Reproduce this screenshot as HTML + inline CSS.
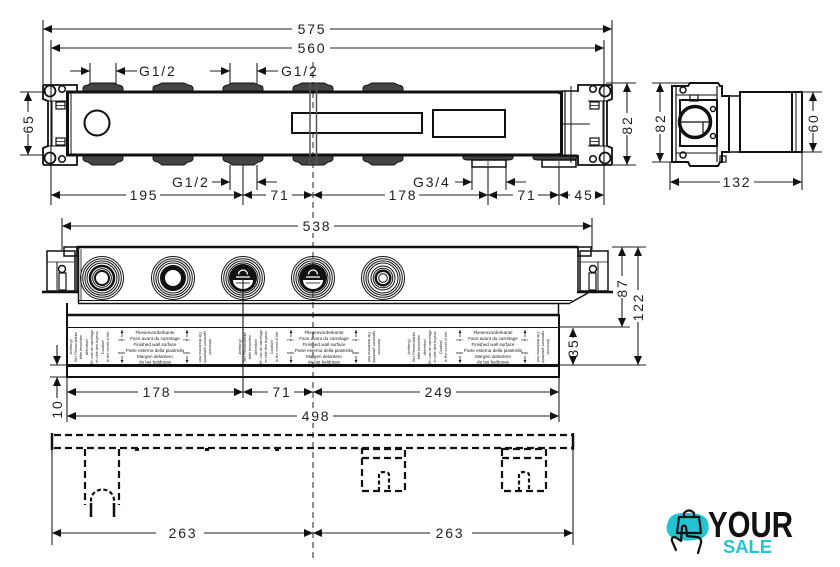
<!DOCTYPE html>
<html><head><meta charset="utf-8">
<style>
html,body{margin:0;padding:0;background:#fff;}
svg{display:block;}
text{font-family:"Liberation Sans",sans-serif;}
.d{font-size:14px;letter-spacing:1.8px;fill:#222;}
.b{font-size:4.6px;fill:#1a1a1a;}
.c{font-size:3.9px;fill:#222;}
</style></head><body>
<svg width="840" height="567" viewBox="0 0 840 567" xmlns="http://www.w3.org/2000/svg">
<defs>
<marker id="a" viewBox="0 0 9 8" refX="9" refY="4" markerWidth="9" markerHeight="8" markerUnits="userSpaceOnUse" orient="auto-start-reverse"><path d="M0,0 L9,4 L0,8 z" fill="#111"/></marker>
<marker id="s" viewBox="0 0 4 4" refX="4" refY="2" markerWidth="3" markerHeight="3" markerUnits="userSpaceOnUse" orient="auto"><path d="M0,0 L4,2 L0,4 z" fill="#222"/></marker>
</defs>

<!-- centerline -->
<line x1="313" y1="62" x2="313" y2="562" stroke="#222" stroke-width="1" stroke-dasharray="6,4"/>

<!-- ================= TOP VIEW ================= -->
<g stroke="#222" stroke-width="1.1" fill="none">
<line x1="43" y1="20" x2="43" y2="86"/>
<line x1="612" y1="20" x2="612" y2="86"/>
<line x1="51" y1="40" x2="51" y2="205"/>
<line x1="604" y1="40" x2="604" y2="205"/>
<line x1="90" y1="63" x2="90" y2="84"/>
<line x1="116" y1="63" x2="116" y2="84"/>
<line x1="230" y1="63" x2="230" y2="84"/>
<line x1="257" y1="63" x2="257" y2="84"/>
<line x1="230" y1="165" x2="230" y2="190"/>
<line x1="257" y1="165" x2="257" y2="190"/>
<line x1="243" y1="165" x2="243" y2="205"/>
<line x1="472" y1="166" x2="472" y2="190"/>
<line x1="506" y1="166" x2="506" y2="190"/>
<line x1="488" y1="166" x2="488" y2="205"/>
<line x1="559" y1="166" x2="559" y2="205"/>
<line x1="20" y1="92" x2="46" y2="92"/>
<line x1="20" y1="155" x2="46" y2="155"/>
<line x1="606" y1="83" x2="636" y2="83"/>
<line x1="606" y1="165" x2="636" y2="165"/>
</g>
<g stroke="#222" stroke-width="1.1" fill="none">
<line x1="43" y1="29" x2="612" y2="29" marker-start="url(#a)" marker-end="url(#a)"/>
<line x1="51" y1="48" x2="604" y2="48" marker-start="url(#a)" marker-end="url(#a)"/>
<line x1="70" y1="71" x2="90" y2="71" marker-end="url(#a)"/>
<line x1="137" y1="71" x2="116" y2="71" marker-end="url(#a)"/>
<line x1="210" y1="71" x2="230" y2="71" marker-end="url(#a)"/>
<line x1="278" y1="71" x2="257" y2="71" marker-end="url(#a)"/>
<line x1="212" y1="182" x2="230" y2="182" marker-end="url(#a)"/>
<line x1="277" y1="182" x2="257" y2="182" marker-end="url(#a)"/>
<line x1="455" y1="182" x2="472" y2="182" marker-end="url(#a)"/>
<line x1="526" y1="182" x2="506" y2="182" marker-end="url(#a)"/>
<line x1="51" y1="195" x2="243" y2="195" marker-start="url(#a)" marker-end="url(#a)"/>
<line x1="243" y1="195" x2="313" y2="195" marker-start="url(#a)" marker-end="url(#a)"/>
<line x1="313" y1="195" x2="488" y2="195" marker-start="url(#a)" marker-end="url(#a)"/>
<line x1="488" y1="195" x2="559" y2="195" marker-start="url(#a)" marker-end="url(#a)"/>
<line x1="559" y1="195" x2="604" y2="195" marker-start="url(#a)" marker-end="url(#a)"/>
<line x1="28" y1="92" x2="28" y2="155" marker-start="url(#a)" marker-end="url(#a)"/>
<line x1="627" y1="83" x2="627" y2="165" marker-start="url(#a)" marker-end="url(#a)"/>
</g>
<g fill="#fff">
<rect x="292" y="21" width="38" height="16"/>
<rect x="292" y="40" width="38" height="16"/>
<rect x="126" y="188" width="34" height="14"/>
<rect x="266" y="188" width="26" height="14"/>
<rect x="385" y="188" width="34" height="14"/>
<rect x="513" y="188" width="25" height="14"/>
<rect x="570" y="188" width="25" height="14"/>
<rect x="21" y="112" width="14" height="22"/>
<rect x="620" y="113" width="14" height="22"/>
</g>
<g class="d">
<text x="312" y="34" text-anchor="middle">575</text>
<text x="312" y="53" text-anchor="middle">560</text>
<text x="139" y="76">G1/2</text>
<text x="281" y="76">G1/2</text>
<text x="172" y="187">G1/2</text>
<text x="413" y="187">G3/4</text>
<text x="144" y="200" text-anchor="middle">195</text>
<text x="280" y="200" text-anchor="middle">71</text>
<text x="403" y="200" text-anchor="middle">178</text>
<text x="527" y="200" text-anchor="middle">71</text>
<text x="584" y="200" text-anchor="middle">45</text>
<text transform="translate(33,124) rotate(-90)" text-anchor="middle">65</text>
<text transform="translate(632,125) rotate(-90)" text-anchor="middle">82</text>
</g>

<!-- pipe bumps -->
<g fill="#444" stroke="#111" stroke-width="1">
<path d="M83,92 L83,88 Q84,85 88,85 L92,83 L114,83 L118,85 Q122,85 123,88 L123,92 Z"/>
<path d="M153,92 L153,88 Q154,85 158,85 L162,83 L184,83 L188,85 Q192,85 193,88 L193,92 Z"/>
<path d="M223,92 L223,88 Q224,85 228,85 L232,83 L254,83 L258,85 Q262,85 263,88 L263,92 Z"/>
<path d="M293,92 L293,88 Q294,85 298,85 L302,83 L324,83 L328,85 Q332,85 333,88 L333,92 Z"/>
<path d="M363,92 L363,88 Q364,85 368,85 L372,83 L394,83 L398,85 Q402,85 403,88 L403,92 Z"/>
<path d="M83,155 L83,159 Q84,162 88,162 L92,165 L114,165 L118,162 Q122,162 123,159 L123,155 Z"/>
<path d="M153,155 L153,159 Q154,162 158,162 L162,165 L184,165 L188,162 Q192,162 193,159 L193,155 Z"/>
<path d="M223,155 L223,159 Q224,162 228,162 L232,165 L254,165 L258,162 Q262,162 263,159 L263,155 Z"/>
<path d="M293,155 L293,159 Q294,162 298,162 L302,165 L324,165 L328,162 Q332,162 333,159 L333,155 Z"/>
<path d="M363,155 L363,159 Q364,162 368,162 L372,165 L394,165 L398,162 Q402,162 403,159 L403,155 Z"/>
<path d="M463,155 L463,158 Q464,160 468,160 L508,160 Q512,160 513,158 L513,155 Z"/>
<path d="M533,155 L533,158 Q534,160 538,160 L572,160 Q576,160 577,158 L577,155 Z"/>
</g>
<g fill="#fff" stroke="#111" stroke-width="1.5">
<rect x="472" y="160" width="34" height="7"/>
<rect x="542" y="160" width="34" height="7"/>
</g>
<g stroke="#555" stroke-width="1"><line x1="488" y1="160" x2="488" y2="167"/><line x1="559" y1="160" x2="559" y2="167"/></g>

<!-- main body -->
<rect x="67.5" y="92" width="494" height="63" fill="none" stroke="#111" stroke-width="3"/>
<line x1="71" y1="93" x2="71" y2="154" stroke="#111" stroke-width="1"/>
<circle cx="97" cy="123" r="12.5" fill="none" stroke="#111" stroke-width="2"/>
<rect x="292" y="113" width="130" height="20" fill="#fff" stroke="#111" stroke-width="2"/>
<rect x="433" y="110" width="72" height="27" fill="none" stroke="#111" stroke-width="2"/>
<g stroke="#555" stroke-width="1.5"><line x1="310" y1="83" x2="310" y2="166"/><line x1="316.5" y1="83" x2="316.5" y2="166"/></g>
<!-- right end cap -->
<g stroke="#111" fill="none">
<path d="M558,93 Q561,93 561,97 L561,151 Q561,154 558,154" stroke-width="1.2"/>
<line x1="565" y1="91" x2="565" y2="157" stroke-width="1.2"/>
<line x1="571" y1="86" x2="571" y2="163" stroke-width="1"/>
<line x1="562" y1="124" x2="590" y2="124" stroke-width="1"/>
<line x1="562" y1="91" x2="578" y2="91" stroke-width="1.5"/>
<line x1="562" y1="156" x2="578" y2="156" stroke-width="1.5"/>
</g>
<!-- brackets top view -->
<g id="brk" fill="none" stroke="#111">
<path d="M77,92 L77,85 L45,85 Q43,85 43,87 L43,99 L48,101 L48,146 L43,148 L43,163 Q43,165 45,165 L77,165 L77,155" stroke-width="1.8"/>
<line x1="52" y1="101" x2="52" y2="146" stroke-width="1"/>
<line x1="48" y1="101" x2="67" y2="101" stroke-width="1"/>
<line x1="48" y1="146" x2="67" y2="146" stroke-width="1"/>
<rect x="56" y="102" width="9" height="7" stroke-width="1.2"/>
<line x1="56" y1="105.5" x2="65" y2="105.5" stroke-width="0.8"/>
<rect x="56" y="138" width="9" height="7" stroke-width="1.2"/>
<line x1="56" y1="141.5" x2="65" y2="141.5" stroke-width="0.8"/>
<circle cx="50" cy="91" r="5.5" stroke-width="1.8"/>
<circle cx="62" cy="89" r="3.3" stroke-width="1.5"/>
<circle cx="50" cy="158" r="5.5" stroke-width="1.8"/>
<circle cx="62" cy="159" r="3.3" stroke-width="1.5"/>
</g>
<use href="#brk" transform="translate(655,0) scale(-1,1)"/>

<!-- ================= SIDE VIEW ================= -->
<g stroke="#222" stroke-width="1.1" fill="none">
<line x1="652" y1="83" x2="695" y2="83"/>
<line x1="652" y1="162" x2="690" y2="162"/>
<line x1="792" y1="92" x2="822" y2="92"/>
<line x1="792" y1="152" x2="822" y2="152"/>
<line x1="670" y1="162" x2="670" y2="190"/>
<line x1="802" y1="152" x2="802" y2="190"/>
<line x1="660" y1="83" x2="660" y2="162" marker-start="url(#a)" marker-end="url(#a)"/>
<line x1="813" y1="92" x2="813" y2="152" marker-start="url(#a)" marker-end="url(#a)"/>
<line x1="670" y1="182" x2="802" y2="182" marker-start="url(#a)" marker-end="url(#a)"/>
</g>
<g fill="#fff">
<rect x="653" y="112" width="14" height="22"/>
<rect x="806" y="111" width="14" height="22"/>
<rect x="720" y="175" width="34" height="14"/>
</g>
<g class="d">
<text transform="translate(665,123) rotate(-90)" text-anchor="middle">82</text>
<text transform="translate(818,123) rotate(-90)" text-anchor="middle">60</text>
<text x="737" y="187" text-anchor="middle">132</text>
</g>
<g stroke="#111" fill="none">
<path d="M672,86 L688,86 L690,83 L718,83 L720,86 L722,86 L722,96 L729,96 L729,152 L722,152 L722,162 L720,162 L718,166 L690,166 L688,162 L672,162 Z" stroke-width="2" fill="#fff"/>
<line x1="676" y1="86" x2="676" y2="162" stroke-width="1.2"/>
<line x1="717" y1="86" x2="717" y2="162" stroke-width="1.2"/>
<line x1="676" y1="95" x2="717" y2="95" stroke-width="1"/>
<line x1="676" y1="153" x2="717" y2="153" stroke-width="1"/>
<rect x="690" y="95" width="8" height="6" stroke-width="1.2"/>
<rect x="680" y="100" width="37" height="46" stroke-width="2"/>
<circle cx="695" cy="122" r="15.5" stroke-width="3.5" fill="#fff"/>
<line x1="681" y1="122" x2="709" y2="122" stroke-width="1.2"/>
<line x1="703" y1="122" x2="703" y2="136" stroke-width="1.2"/>
<circle cx="683" cy="90" r="3" stroke-width="1.5"/>
<circle cx="683" cy="155" r="3" stroke-width="1.5"/>
<circle cx="713" cy="109" r="2.5" stroke-width="1.5"/>
<circle cx="713" cy="136" r="2.5" stroke-width="1.5"/>
<rect x="720" y="156" width="6" height="6" stroke-width="1.2"/>
<rect x="729" y="96" width="11" height="56" stroke-width="1.5"/>
<rect x="740" y="92" width="52" height="60" stroke-width="2"/>
<rect x="792" y="92" width="10" height="60" stroke-width="2"/>
<line x1="796" y1="92" x2="796" y2="152" stroke-width="1"/>
</g>

<!-- ================= MIDDLE VIEW ================= -->
<g stroke="#222" stroke-width="1.1" fill="none">
<line x1="62" y1="218" x2="62" y2="250"/>
<line x1="592" y1="218" x2="592" y2="250"/>
<line x1="612" y1="247" x2="646" y2="247"/>
<line x1="560" y1="327" x2="630" y2="327"/>
<line x1="560" y1="365" x2="646" y2="365"/>
<line x1="50" y1="365" x2="67" y2="365"/>
<line x1="50" y1="377" x2="67" y2="377"/>
<line x1="67" y1="377" x2="67" y2="422"/>
<line x1="559" y1="377" x2="559" y2="422"/>
<line x1="243" y1="278" x2="243" y2="398"/>
<line x1="62" y1="226" x2="592" y2="226" marker-start="url(#a)" marker-end="url(#a)"/>
<line x1="622" y1="247" x2="622" y2="327" marker-start="url(#a)" marker-end="url(#a)"/>
<line x1="638" y1="247" x2="638" y2="365" marker-start="url(#a)" marker-end="url(#a)"/>
<line x1="573" y1="340" x2="573" y2="328" marker-end="url(#a)"/>
<line x1="573" y1="354" x2="573" y2="365" marker-end="url(#a)"/>
<line x1="57" y1="345" x2="57" y2="365" marker-end="url(#a)"/>
<line x1="57" y1="398" x2="57" y2="377" marker-end="url(#a)"/>
<line x1="67" y1="392" x2="243" y2="392" marker-start="url(#a)" marker-end="url(#a)"/>
<line x1="243" y1="392" x2="313" y2="392" marker-start="url(#a)" marker-end="url(#a)"/>
<line x1="313" y1="392" x2="559" y2="392" marker-start="url(#a)" marker-end="url(#a)"/>
<line x1="67" y1="416" x2="559" y2="416" marker-start="url(#a)" marker-end="url(#a)"/>
</g>
<g fill="#fff">
<rect x="298" y="219" width="36" height="14"/>
<rect x="616" y="276" width="12" height="22"/>
<rect x="632" y="290" width="12" height="32"/>
<rect x="567" y="338" width="12" height="18"/>
<rect x="138" y="385" width="36" height="14"/>
<rect x="268" y="385" width="26" height="14"/>
<rect x="420" y="385" width="36" height="14"/>
<rect x="297" y="409" width="36" height="14"/>
<rect x="51" y="399" width="12" height="20"/>
</g>
<g class="d">
<text x="317" y="231" text-anchor="middle">538</text>
<text transform="translate(627,288) rotate(-90)" text-anchor="middle">87</text>
<text transform="translate(643,307) rotate(-90)" text-anchor="middle">122</text>
<text transform="translate(578,348) rotate(-90)" text-anchor="middle">35</text>
<text x="157" y="397" text-anchor="middle">178</text>
<text x="282" y="397" text-anchor="middle">71</text>
<text x="439" y="397" text-anchor="middle">249</text>
<text x="316" y="421" text-anchor="middle">498</text>
<text transform="translate(62,409) rotate(-90)" text-anchor="middle">10</text>
</g>

<!-- body -->
<g stroke="#111" fill="none">
<line x1="77" y1="247" x2="578" y2="247" stroke-width="2.5"/>
<line x1="78.5" y1="247" x2="78.5" y2="303" stroke-width="1.5"/>
<line x1="81" y1="249" x2="81" y2="301" stroke-width="0.8"/>
<line x1="78" y1="300.5" x2="572" y2="300.5" stroke-width="1"/>
<line x1="78" y1="303.5" x2="570" y2="303.5" stroke-width="1.5"/>
<path d="M570,303 L588,293" stroke-width="1.5"/>
<line x1="558.5" y1="303" x2="558.5" y2="315" stroke-width="1.5"/>
<line x1="67" y1="315" x2="559" y2="315" stroke-width="2.5"/>
<line x1="67" y1="327.5" x2="559" y2="327.5" stroke-width="1"/>
<line x1="67" y1="365.5" x2="559" y2="365.5" stroke-width="3"/>
<line x1="67" y1="377" x2="559" y2="377" stroke-width="2"/>
<line x1="67" y1="303" x2="67" y2="378" stroke-width="2"/>
<line x1="559" y1="314" x2="559" y2="378" stroke-width="2"/>
</g>
<!-- middle brackets -->
<g id="mb" fill="none" stroke="#111">
<line x1="42" y1="292" x2="78" y2="292" stroke-width="2.5"/>
<line x1="77" y1="247" x2="77" y2="293" stroke-width="1.5"/>
<rect x="47" y="251" width="28" height="40" stroke-width="1.5"/>
<rect x="64" y="247" width="13" height="9" stroke-width="1.5"/>
<line x1="57" y1="262" x2="57" y2="290" stroke-width="1"/>
<line x1="47" y1="262" x2="75" y2="262" stroke-width="0.8"/>
<circle cx="62" cy="269" r="3.5" stroke-width="1.5"/>
<rect x="59" y="273" width="7" height="17" stroke-width="1.2"/>
</g>
<use href="#mb" transform="translate(655,0) scale(-1,1)"/>

<!-- ports -->
<g fill="none" stroke="#111" stroke-width="1">
<g id="rings"><circle cx="102" cy="278" r="21.5"/><circle cx="102" cy="278" r="19.3"/><circle cx="102" cy="278" r="17.1"/><circle cx="102" cy="278" r="15"/></g>
<use href="#rings" x="71"/>
<use href="#rings" x="141"/>
<use href="#rings" x="211"/>
<use href="#rings" x="281"/>
<circle cx="102" cy="278" r="12" stroke-width="2.5"/>
<circle cx="102" cy="278" r="9.3" stroke-width="1"/>
<circle cx="102" cy="278" r="7" stroke-width="2"/>
<circle cx="173" cy="278" r="10.5" stroke-width="5"/>
<circle cx="383" cy="278" r="12" stroke-width="1"/>
<circle cx="383" cy="278" r="9.8" stroke-width="1"/>
<circle cx="383" cy="278" r="7.3" stroke-width="2.5"/>
<circle cx="383" cy="278" r="4.3" stroke-width="1"/>
</g>
<g id="pt">
<circle cx="243" cy="278" r="14" fill="#111"/>
<path d="M233,280 A10,9 0 0 0 253,280 Z" fill="#fff"/>
<line x1="236" y1="277" x2="250" y2="277" stroke="#fff" stroke-width="1.3"/>
<path d="M238.5,274.5 A4.5,4.5 0 0 1 247.5,274.5" fill="none" stroke="#fff" stroke-width="1.3"/>
<line x1="236" y1="283" x2="250" y2="283" stroke="#111" stroke-width="0.8"/>
</g>
<use href="#pt" x="70"/>
<line x1="243" y1="278" x2="243" y2="366" stroke="#222" stroke-width="1.1"/>

<!-- label band -->
<g id="grp">
<g class="b" text-anchor="middle">
<text x="155" y="334">Fliesenvorderkante</text>
<text x="155" y="340">Face avant du carrelage</text>
<text x="155" y="346">Finished wall surface</text>
<text x="155" y="352">Parte esterna della piastrella</text>
<text x="155" y="358">Margen delantero</text>
<text x="155" y="363.5">de las baldosas</text>
</g>
<g stroke="#222" stroke-width="0.8">
<line x1="122" y1="337" x2="122" y2="330" marker-end="url(#s)"/>
<line x1="122" y1="356" x2="122" y2="363" marker-end="url(#s)"/>
<line x1="187" y1="337" x2="187" y2="330" marker-end="url(#s)"/>
<line x1="187" y1="356" x2="187" y2="363" marker-end="url(#s)"/>
</g>
<g class="c" text-anchor="middle">
<text x="122" y="341">min.</text><text x="122" y="354">max.</text>
<text x="187" y="341">min.</text><text x="187" y="354">max.</text>
<text transform="translate(72,347) rotate(-90)">Achtung!</text>
<text transform="translate(77,347) rotate(-90)">Bei Fliesenstärke</text>
<text transform="translate(82,347) rotate(-90)">bitte beachten</text>
<text transform="translate(88,347) rotate(-90)">Attention!</text>
<text transform="translate(93,347) rotate(-90)">En cas de carrelage</text>
<text transform="translate(98,347) rotate(-90)">et vide des tuyaux</text>
<text transform="translate(104,347) rotate(-90)">Caution!</text>
<text transform="translate(109,347) rotate(-90)">In the event of tile</text>
<text transform="translate(199,347) rotate(90)">Tile thickness hint</text>
<text transform="translate(204,347) rotate(90)">spessore piastrelle</text>
<text transform="translate(209,347) rotate(90)">Atención!</text>
</g>
</g>
<use href="#grp" x="169"/>
<use href="#grp" x="338"/>

<!-- ================= LOWER DASHED VIEW ================= -->
<g stroke="#222" fill="none" stroke-width="1.1">
<line x1="52" y1="433" x2="52" y2="545"/>
<line x1="573" y1="433" x2="573" y2="545"/>
<line x1="52" y1="533" x2="313" y2="533" marker-start="url(#a)" marker-end="url(#a)"/>
<line x1="313" y1="533" x2="573" y2="533" marker-start="url(#a)" marker-end="url(#a)"/>
</g>
<g fill="#fff">
<rect x="156" y="526" width="48" height="14"/>
<rect x="430" y="526" width="42" height="14"/>
</g>
<g class="d">
<text x="183" y="538" text-anchor="middle">263</text>
<text x="450" y="538" text-anchor="middle">263</text>
</g>
<g stroke="#111" fill="none" stroke-width="2.2" stroke-dasharray="7,4">
<line x1="54" y1="435" x2="573" y2="435"/>
<line x1="54" y1="448" x2="573" y2="448"/>
<line x1="85" y1="449" x2="85" y2="505"/>
<line x1="119" y1="449" x2="119" y2="505"/>
<path d="M91,508 L91,500 A11,10 0 0 1 114,500 L114,508" stroke-dasharray="4,2.5"/>
<rect x="362" y="449" width="43" height="42"/>
<line x1="362" y1="458" x2="405" y2="458"/>
<path d="M379,491 L379,475 Q379,472 384,472 Q389,472 389,475 L389,491" stroke-dasharray="4,2.5"/>
<rect x="502" y="449" width="44" height="42"/>
<line x1="502" y1="458" x2="546" y2="458"/>
<path d="M519,491 L519,475 Q519,472 524,472 Q529,472 529,475 L529,491" stroke-dasharray="4,2.5"/>
</g>
<g stroke="#111" stroke-width="2.5">
<line x1="52" y1="433" x2="52" y2="450"/>
<line x1="573" y1="433" x2="573" y2="450"/>
<line x1="91" y1="503" x2="91" y2="517"/>
<line x1="114" y1="503" x2="114" y2="517"/>
</g>
<g fill="#111">
<rect x="135" y="448" width="4" height="3"/>
<rect x="205" y="448" width="4" height="3"/>
<rect x="275" y="448" width="4" height="3"/>
</g>

<!-- ================= LOGO ================= -->
<path d="M668,522 Q670,512 688,513 Q705,513 708,522 Q711,535 700,539 Q682,543 671,537 Q664,531 668,522 Z" fill="#22c4d4"/>
<g fill="none" stroke="#111" stroke-width="2.2" stroke-linejoin="round" stroke-linecap="round">
<path d="M679,517 L699,517 L701,533 L677,533 Z"/>
<path d="M684,517 L684,513 Q689,508 694,513 L694,517"/>
<path d="M676,550 L672,541 Q671,537 675,537 L681,541 L682,527 Q684,524 686,527 L687,536 L697,537 Q702,538 701,543 L698,553"/>
</g>
<text x="708" y="537" font-size="36" font-weight="bold" fill="#111" textLength="85" lengthAdjust="spacingAndGlyphs">YOUR</text>
<text x="723" y="553" font-size="18" font-weight="bold" fill="#22c4d4" textLength="49" lengthAdjust="spacingAndGlyphs">SALE</text>
</svg>
</body></html>
